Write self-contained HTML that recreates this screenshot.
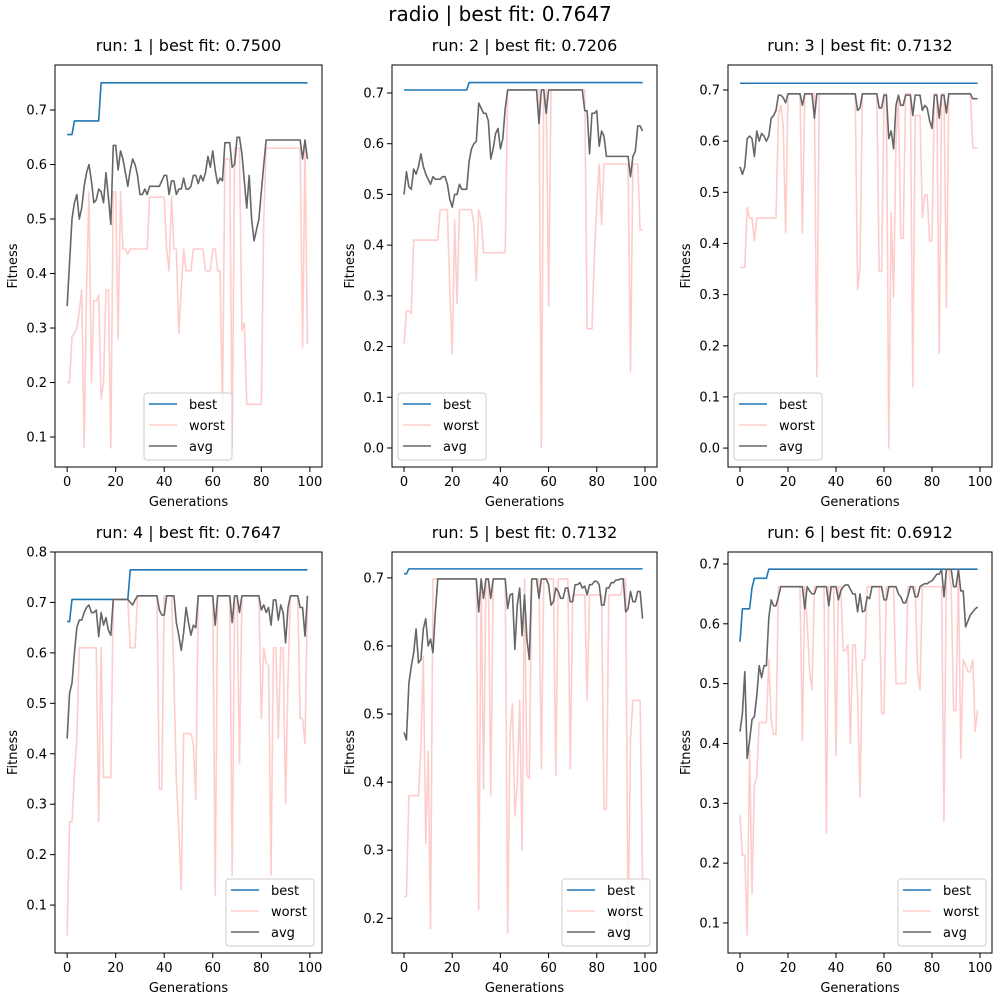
<!DOCTYPE html>
<html><head><meta charset="utf-8"><style>
body{margin:0;background:#fff}
svg text{font-family:"DejaVu Sans","Liberation Sans",sans-serif;fill:#000}
</style></head><body>
<svg id="fig" width="1000" height="1000" viewBox="0 0 1000 1000">
<text x="500" y="21" font-size="20" text-anchor="middle">radio | best fit: 0.7647</text>
</svg>
<script>
const generations = Array.from({length:100},(_, i)=>i);
const xTicks = [0,20,40,60,80,100];
const titles = ["run: 1 | best fit: 0.7500","run: 2 | best fit: 0.7206","run: 3 | best fit: 0.7132","run: 4 | best fit: 0.7647","run: 5 | best fit: 0.7132","run: 6 | best fit: 0.6912"];
const yTicks1=[0.1,0.2,0.3,0.4,0.5,0.6,0.7];
const yTicks2=[0.0,0.1,0.2,0.3,0.4,0.5,0.6,0.7];
const yTicks3=[0.0,0.1,0.2,0.3,0.4,0.5,0.6,0.7];
const yTicks4=[0.1,0.2,0.3,0.4,0.5,0.6,0.7,0.8];
const yTicks5=[0.2,0.3,0.4,0.5,0.6,0.7];
const yTicks6=[0.1,0.2,0.3,0.4,0.5,0.6,0.7];

const best1=[.655,.655,.655,.68,.68,.68,.68,.68,.68,.68, .68,.68,.68,.68,.75,.75,.75,.75,.75,.75,
.75,.75,.75,.75,.75,.75,.75,.75,.75,.75, .75,.75,.75,.75,.75,.75,.75,.75,.75,.75, .75,.75,.75,.75,.75,.75,.75,.75,.75,.75,
.75,.75,.75,.75,.75,.75,.75,.75,.75,.75, .75,.75,.75,.75,.75,.75,.75,.75,.75,.75, .75,.75,.75,.75,.75,.75,.75,.75,.75,.75,
.75,.75,.75,.75,.75,.75,.75,.75,.75,.75, .75,.75,.75,.75,.75,.75,.75,.75,.75,.75];
const avg1=[.34,.42,.50,.53,.545,.50,.52,.56,.585,.60, .57,.53,.535,.555,.55,.53,.585,.54,.49,.635,
.635,.59,.625,.61,.585,.56,.59,.61,.60,.58, .545,.545,.555,.545,.56,.56,.56,.56,.56,.57,
.58,.58,.545,.57,.57,.545,.555,.555,.575,.555, .555,.56,.58,.58,.565,.58,.57,.585,.615,.595,
.625,.59,.565,.575,.57,.64,.64,.64,.595,.60, .65,.65,.62,.57,.52,.58,.50,.46,.48,.50,
.55,.60,.645,.645,.645,.645,.645,.645,.645,.645, .645,.645,.645,.645,.645,.645,.645,.61,.645,.61];
const worst1=[.2,.2,.285,.29,.30,.33,.37,.08,.37,.55, .20,.35,.35,.36,.17,.20,.37,.37,.08,.55,
.55,.28,.55,.445,.445,.435,.445,.445,.445,.445, .445,.445,.445,.445,.54,.54,.54,.54,.54,.54,
.54,.445,.405,.54,.445,.445,.29,.37,.445,.405, .405,.405,.445,.445,.445,.445,.445,.405,.405,.405,
.445,.445,.405,.405,.15,.61,.61,.61,.08,.63, .63,.63,.295,.31,.16,.16,.16,.16,.16,.16,
.16,.50,.63,.63,.63,.63,.63,.63,.63,.63, .63,.63,.63,.63,.63,.63,.63,.265,.63,.27];

const best2=[.7059,.7059,.7059,.7059,.7059,.7059,.7059,.7059,.7059,.7059, .7059,.7059,.7059,.7059,.7059,.7059,.7059,.7059,.7059,.7059,
.7059,.7059,.7059,.7059,.7059,.7059,.7059,.7206,.7206,.7206, .7206,.7206,.7206,.7206,.7206,.7206,.7206,.7206,.7206,.7206,
.7206,.7206,.7206,.7206,.7206,.7206,.7206,.7206,.7206,.7206, .7206,.7206,.7206,.7206,.7206,.7206,.7206,.7206,.7206,.7206,
.7206,.7206,.7206,.7206,.7206,.7206,.7206,.7206,.7206,.7206, .7206,.7206,.7206,.7206,.7206,.7206,.7206,.7206,.7206,.7206,
.7206,.7206,.7206,.7206,.7206,.7206,.7206,.7206,.7206,.7206, .7206,.7206,.7206,.7206,.7206,.7206,.7206,.7206,.7206,.7206];
const avg2=[.50,.545,.515,.51,.55,.54,.555,.58,.555,.54, .53,.52,.535,.53,.53,.53,.535,.535,.52,.49,
.475,.50,.50,.52,.51,.51,.51,.565,.59,.60, .605,.68,.67,.66,.66,.645,.57,.59,.62,.63,
.59,.61,.67,.706,.706,.706,.706,.706,.706,.706, .706,.706,.706,.706,.706,.706,.64,.706,.706,.66,
.706,.706,.706,.706,.706,.706,.706,.706,.706,.706, .706,.706,.706,.706,.706,.665,.665,.58,.66,.66,
.665,.595,.625,.615,.575,.575,.575,.575,.575,.575, .575,.575,.575,.575,.535,.575,.585,.635,.635,.625];
const worst2=[.205,.27,.27,.265,.41,.41,.41,.41,.41,.41, .41,.41,.41,.41,.41,.47,.47,.47,.47,.31,
.185,.45,.285,.47,.47,.47,.47,.47,.47,.44, .33,.47,.45,.385,.385,.385,.385,.385,.385,.385,
.385,.385,.385,.706,.706,.706,.706,.706,.706,.706, .706,.706,.706,.706,.706,.706,.706,0,.706,.706,
.28,.706,.706,.706,.706,.706,.706,.706,.706,.706, .706,.706,.706,.706,.706,.706,.235,.235,.235,.38,
.48,.56,.44,.56,.56,.56,.56,.56,.56,.56, .56,.56,.56,.56,.15,.56,.56,.56,.43,.43];

const best3=[.7132,.7132,.7132,.7132,.7132,.7132,.7132,.7132,.7132,.7132, .7132,.7132,.7132,.7132,.7132,.7132,.7132,.7132,.7132,.7132,
.7132,.7132,.7132,.7132,.7132,.7132,.7132,.7132,.7132,.7132, .7132,.7132,.7132,.7132,.7132,.7132,.7132,.7132,.7132,.7132,
.7132,.7132,.7132,.7132,.7132,.7132,.7132,.7132,.7132,.7132, .7132,.7132,.7132,.7132,.7132,.7132,.7132,.7132,.7132,.7132,
.7132,.7132,.7132,.7132,.7132,.7132,.7132,.7132,.7132,.7132, .7132,.7132,.7132,.7132,.7132,.7132,.7132,.7132,.7132,.7132,
.7132,.7132,.7132,.7132,.7132,.7132,.7132,.7132,.7132,.7132, .7132,.7132,.7132,.7132,.7132,.7132,.7132,.7132,.7132,.7132];
const avg3=[.55,.535,.55,.605,.61,.605,.57,.62,.60,.615, .61,.60,.61,.645,.65,.66,.69,.69,.685,.675,
.6926,.6926,.6926,.6926,.6926,.6926,.67,.6926,.6926,.6926, .6926,.645,.6926,.6926,.6926,.6926,.6926,.6926,.6926,.6926,
.6926,.6926,.6926,.6926,.6926,.6926,.6926,.6926,.6926,.66, .665,.6926,.6926,.6926,.6926,.6926,.6926,.6926,.665,.665,
.69,.69,.605,.62,.585,.67,.69,.67,.67,.69, .69,.69,.65,.69,.69,.69,.66,.67,.665,.64,
.625,.69,.69,.645,.69,.69,.655,.6926,.6926,.6926, .6926,.6926,.6926,.6926,.6926,.6926,.6926,.683,.683,.683];
const worst3=[.353,.353,.353,.47,.45,.45,.405,.45,.45,.45, .45,.45,.45,.45,.45,.45,.65,.67,.63,.42,
.6926,.6926,.6926,.6926,.6926,.6926,.42,.6926,.6926,.6926, .6926,.6926,.14,.6926,.6926,.6926,.6926,.6926,.6926,.6926,
.6926,.6926,.6926,.6926,.6926,.6926,.6926,.6926,.6926,.31, .355,.6926,.6926,.6926,.6926,.6926,.6926,.6926,.345,.345,
.6926,.6926,0,.46,.295,.60,.68,.41,.41,.6926, .6926,.6926,.12,.65,.65,.65,.45,.495,.495,.405,
.405,.6926,.6926,.185,.6926,.6926,.275,.6926,.6926,.6926, .6926,.6926,.6926,.6926,.6926,.6926,.6926,.587,.587,.587];

const best4=[.662,.662,.706,.706,.706,.706,.706,.706,.706,.706, .706,.706,.706,.706,.706,.706,.706,.706,.706,.706,
.706,.706,.706,.706,.706,.706,.7647,.7647,.7647,.7647, .7647,.7647,.7647,.7647,.7647,.7647,.7647,.7647,.7647,.7647,
.7647,.7647,.7647,.7647,.7647,.7647,.7647,.7647,.7647,.7647, .7647,.7647,.7647,.7647,.7647,.7647,.7647,.7647,.7647,.7647,
.7647,.7647,.7647,.7647,.7647,.7647,.7647,.7647,.7647,.7647, .7647,.7647,.7647,.7647,.7647,.7647,.7647,.7647,.7647,.7647,
.7647,.7647,.7647,.7647,.7647,.7647,.7647,.7647,.7647,.7647, .7647,.7647,.7647,.7647,.7647,.7647,.7647,.7647,.7647,.7647];
const avg4=[.43,.52,.54,.60,.65,.665,.665,.68,.69,.695, .68,.68,.685,.632,.68,.655,.67,.645,.635,.706,
.706,.706,.706,.706,.706,.706,.70,.695,.705,.7132, .7132,.7132,.7132,.7132,.7132,.7132,.7132,.7132,.685,.675,
.675,.7132,.7132,.7132,.7132,.66,.635,.605,.64,.69, .66,.635,.655,.65,.7132,.7132,.7132,.7132,.7132,.7132,
.7132,.655,.7132,.7132,.7132,.7132,.7132,.7132,.66,.7132, .7132,.68,.7132,.7132,.7132,.7132,.7132,.7132,.7132,.7132,
.685,.695,.68,.69,.655,.705,.705,.665,.695,.68, .62,.69,.7132,.7132,.7132,.7132,.69,.69,.633,.7132];
const worst4=[.04,.265,.265,.36,.43,.61,.61,.61,.61,.61, .61,.61,.61,.265,.61,.353,.353,.353,.353,.706,
.706,.706,.706,.706,.706,.706,.61,.61,.61,.7132, .7132,.7132,.7132,.7132,.7132,.7132,.7132,.7132,.33,.33,
.7132,.7132,.7132,.7132,.55,.35,.25,.13,.44,.44, .44,.44,.42,.31,.7132,.7132,.7132,.7132,.7132,.7132,
.7132,.12,.7132,.7132,.7132,.7132,.7132,.7132,.16,.7132, .7132,.38,.7132,.7132,.7132,.7132,.7132,.7132,.7132,.7132,
.47,.61,.58,.575,.16,.61,.61,.43,.61,.61, .30,.55,.7132,.7132,.7132,.7132,.47,.47,.42,.7132];

const best5=[.706,.706,.7132,.7132,.7132,.7132,.7132,.7132,.7132,.7132, .7132,.7132,.7132,.7132,.7132,.7132,.7132,.7132,.7132,.7132,
.7132,.7132,.7132,.7132,.7132,.7132,.7132,.7132,.7132,.7132, .7132,.7132,.7132,.7132,.7132,.7132,.7132,.7132,.7132,.7132,
.7132,.7132,.7132,.7132,.7132,.7132,.7132,.7132,.7132,.7132, .7132,.7132,.7132,.7132,.7132,.7132,.7132,.7132,.7132,.7132,
.7132,.7132,.7132,.7132,.7132,.7132,.7132,.7132,.7132,.7132, .7132,.7132,.7132,.7132,.7132,.7132,.7132,.7132,.7132,.7132,
.7132,.7132,.7132,.7132,.7132,.7132,.7132,.7132,.7132,.7132, .7132,.7132,.7132,.7132,.7132,.7132,.7132,.7132,.7132,.7132];
const avg5=[.473,.462,.545,.57,.59,.625,.575,.58,.625,.64, .60,.61,.59,.65,.6985,.6985,.6985,.6985,.6985,.6985,
.6985,.6985,.6985,.6985,.6985,.6985,.6985,.6985,.6985,.6985, .6985,.65,.6985,.67,.6985,.6985,.67,.6985,.6985,.6985,
.6985,.6985,.6985,.655,.675,.677,.595,.66,.685,.615, .675,.61,.58,.6985,.6985,.6985,.67,.6985,.6985,.6985,
.69,.66,.665,.685,.68,.67,.67,.685,.685,.665, .665,.69,.69,.693,.685,.688,.675,.69,.69,.695,
.695,.69,.66,.66,.685,.685,.693,.693,.697,.697, .6985,.6985,.65,.655,.68,.665,.665,.68,.68,.64];
const worst5=[.232,.232,.38,.38,.38,.38,.38,.45,.585,.31, .445,.185,.6985,.6985,.6985,.6985,.6985,.6985,.6985,.6985,
.6985,.6985,.6985,.6985,.6985,.6985,.6985,.6985,.6985,.6985, .6985,.213,.6985,.39,.6985,.6985,.38,.6985,.6985,.6985,
.6985,.6985,.6985,.178,.47,.515,.35,.40,.52,.30, .6985,.41,.405,.6985,.6985,.6985,.6985,.42,.6985,.6985,
.6985,.6985,.6985,.41,.6985,.6985,.6985,.6985,.6985,.42, .675,.675,.675,.675,.675,.675,.52,.675,.675,.675,
.675,.675,.675,.36,.36,.675,.675,.675,.675,.675, .675,.6985,.6985,.17,.465,.52,.52,.52,.52,.25];

const best6=[.57,.625,.625,.625,.625,.66,.676,.676,.676,.676, .676,.676,.6912,.6912,.6912,.6912,.6912,.6912,.6912,.6912,
.6912,.6912,.6912,.6912,.6912,.6912,.6912,.6912,.6912,.6912, .6912,.6912,.6912,.6912,.6912,.6912,.6912,.6912,.6912,.6912,
.6912,.6912,.6912,.6912,.6912,.6912,.6912,.6912,.6912,.6912, .6912,.6912,.6912,.6912,.6912,.6912,.6912,.6912,.6912,.6912,
.6912,.6912,.6912,.6912,.6912,.6912,.6912,.6912,.6912,.6912, .6912,.6912,.6912,.6912,.6912,.6912,.6912,.6912,.6912,.6912,
.6912,.6912,.6912,.6912,.6912,.6912,.6912,.6912,.6912,.6912, .6912,.6912,.6912,.6912,.6912,.6912,.6912,.6912,.6912,.6912];
const avg6=[.42,.45,.52,.375,.405,.44,.445,.48,.53,.51, .53,.53,.61,.64,.63,.63,.645,.662,.662,.662,
.662,.662,.662,.662,.662,.662,.662,.625,.662,.655, .65,.65,.662,.662,.662,.662,.662,.63,.662,.662,
.662,.64,.655,.662,.665,.665,.658,.65,.65,.62, .65,.62,.622,.645,.642,.662,.662,.662,.662,.662,
.64,.64,.662,.662,.662,.662,.65,.645,.635,.635, .647,.662,.662,.645,.645,.662,.665,.667,.667,.67,
.672,.677,.683,.683,.691,.645,.691,.691,.691,.662, .662,.691,.655,.655,.595,.605,.615,.62,.625,.628];
const worst6=[.28,.213,.213,.08,.39,.15,.33,.345,.435,.435, .435,.435,.54,.44,.415,.415,.662,.662,.662,.662,
.662,.662,.662,.662,.662,.662,.405,.662,.60,.52, .49,.662,.662,.662,.662,.662,.25,.662,.662,.662,
.38,.662,.662,.555,.555,.565,.40,.565,.565,.48, .31,.54,.54,.662,.662,.662,.662,.662,.662,.45,
.45,.662,.662,.662,.662,.50,.50,.50,.50,.50, .662,.662,.662,.662,.52,.49,.662,.662,.662,.662,
.662,.662,.662,.662,.662,.27,.691,.691,.662,.455, .455,.691,.375,.54,.53,.52,.52,.54,.42,.456];

const NS="http://www.w3.org/2000/svg";
const svg=document.getElementById('fig');
function mk(tag,attrs,parent){const e=document.createElementNS(NS,tag);for(const k in attrs)e.setAttribute(k,attrs[k]);(parent||svg).appendChild(e);return e;}

const panels=[
 {L:55,R:322,T:65,B:467,ymin:0.045,ymax:0.7826,yt:yTicks1,best:best1,worst:worst1,avg:avg1,leg:[144,393]},
 {L:392,R:657,T:65,B:467,ymin:-0.0375,ymax:0.7552,yt:yTicks2,best:best2,worst:worst2,avg:avg2,leg:[398,393]},
 {L:728,R:992,T:65,B:467,ymin:-0.037,ymax:0.7489,yt:yTicks3,best:best3,worst:worst3,avg:avg3,leg:[734,393]},
 {L:55,R:322,T:552,B:953,ymin:0.005,ymax:0.8,yt:yTicks4,best:best4,worst:worst4,avg:avg4,leg:[226,879]},
 {L:392,R:657,T:552,B:953,ymin:0.149,ymax:0.738,yt:yTicks5,best:best5,worst:worst5,avg:avg5,leg:[562,879]},
 {L:728,R:992,T:552,B:953,ymin:0.0498,ymax:0.72,yt:yTicks6,best:best6,worst:worst6,avg:avg6,leg:[898,879]}
];
const colors={best:'#1f77b4',worst:'#ffcccc',avg:'#666666'};

panels.forEach((p,i)=>{
  const g=mk('g',{});
  
  
  const sx=v=>p.L+(v+5)/110*(p.R-p.L);
  const sy=v=>p.B-(v-p.ymin)/(p.ymax-p.ymin)*(p.B-p.T);
  const t=mk('text',{x:(p.L+p.R)/2,y:p.T-14,'font-size':'16','text-anchor':'middle'},g);
  t.textContent=titles[i];
  
  
  ['best','worst','avg'].forEach(s=>{
    const pts=generations.map((x,k)=>sx(x).toFixed(2)+','+sy(p[s][k]).toFixed(2)).join(' ');
    const pl=mk('polyline',{points:pts,fill:'none',stroke:colors[s],'stroke-width':'1.6','stroke-linejoin':'round'},g);
    
    
  });
  const fr=mk('rect',{x:p.L,y:p.T,width:p.R-p.L,height:p.B-p.T,fill:'none',stroke:'#000','stroke-width':'1'},g);
  
  
  xTicks.forEach(v=>{
    const x=sx(v);
    mk('line',{x1:x,x2:x,y1:p.B,y2:p.B+5,stroke:'#000','stroke-width':'1'},g);
    const tl=mk('text',{x:x,y:p.B+19,'font-size':'13','text-anchor':'middle'},g);
    tl.textContent=v;
    
    
  });
  p.yt.forEach(v=>{
    const y=sy(v);
    mk('line',{x1:p.L-5,x2:p.L,y1:y,y2:y,stroke:'#000','stroke-width':'1'},g);
    const tl=mk('text',{x:p.L-8,y:y+4.5,'font-size':'13','text-anchor':'end'},g);
    tl.textContent=v.toFixed(1);
    
    
  });
  const xl=mk('text',{x:(p.L+p.R)/2,y:p.B+39,'font-size':'13','text-anchor':'middle'},g);
  xl.textContent='Generations';
  
  
  const yx=p.L-38, yy=(p.T+p.B)/2;
  const yl=mk('text',{x:yx,y:yy,'font-size':'13','text-anchor':'middle',transform:`rotate(-90 ${yx} ${yy})`},g);
  yl.textContent='Fitness';
  
  
  const [lx,ly]=p.leg;
  const lg=mk('g',{},g);
  
  
  mk('rect',{x:lx,y:ly,width:88,height:67,rx:3,fill:'#fff','fill-opacity':'0.8',stroke:'#ccc','stroke-width':'1'},lg);
  ['best','worst','avg'].forEach((s,k)=>{
    const cy=ly+11+k*21;
    const ln=mk('line',{x1:lx+5,x2:lx+33,y1:cy,y2:cy,stroke:colors[s],'stroke-width':'1.6'},lg);
    
    
    const tx=mk('text',{x:lx+45,y:cy+5,'font-size':'13'},lg);
    tx.textContent=s;
    
    
  });
});
</script>
</body></html>
